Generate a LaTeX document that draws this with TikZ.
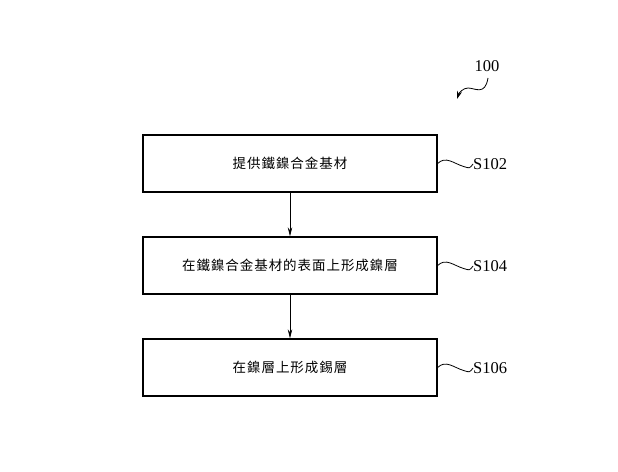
\documentclass[tikz,border=0pt]{standalone}
\usepackage{fontspec}
\setmainfont{Liberation Serif}
\newfontfamily\cjk[LetterSpace=7]{Noto Sans CJK TC}
\usetikzlibrary{arrows.meta,calc}
\begin{document}
\begin{tikzpicture}[x=1pt,y=-1pt,
  stepbox/.style={draw, line width=1.3pt, minimum width=294pt, minimum height=57pt, inner sep=0pt, font=\cjk\fontsize{13.5}{15}\selectfont},
  lbl/.style={anchor=west, inner sep=0pt, font=\fontsize{16.5}{18}\selectfont},
  flow/.style={line width=0.7pt, -{Stealth[length=9pt,width=4.5pt]}},
  squig/.style={line width=0.8pt}]
\useasboundingbox (0,0) rectangle (618,471);
\node[stepbox] (b1) at (290,163.5) {提供鐵鎳合金基材};
\node[stepbox] (b2) at (290,265.5) {在鐵鎳合金基材的表面上形成鎳層};
\node[stepbox] (b3) at (290,367.5) {在鎳層上形成錫層};
\draw[flow] (b1.south) -- (b2.north);
\draw[flow] (b2.south) -- (b3.north);
\node[lbl] (l1) at (473,164) {S102};
\node[lbl] (l2) at (473,266) {S104};
\node[lbl] (l3) at (473,368) {S106};
\foreach \b/\l in {b1/l1,b2/l2,b3/l3}{
  \draw[squig] (\b.east) .. controls +(8,-8) and +(-10,-3) .. ($(\b.east)+(26,3)$) .. controls +(6,2) .. (\l.west);
}
\node[lbl, anchor=center] (n100) at (487,66) {100};
\coordinate (a100) at (457,99);
\draw[line width=0.8pt, -{Stealth[length=8pt,width=5pt]}] (488,78) .. controls (485,96) and (475,88) .. (468,88) .. controls (463,88) and (459,93) .. (a100);
\end{tikzpicture}
\end{document}
